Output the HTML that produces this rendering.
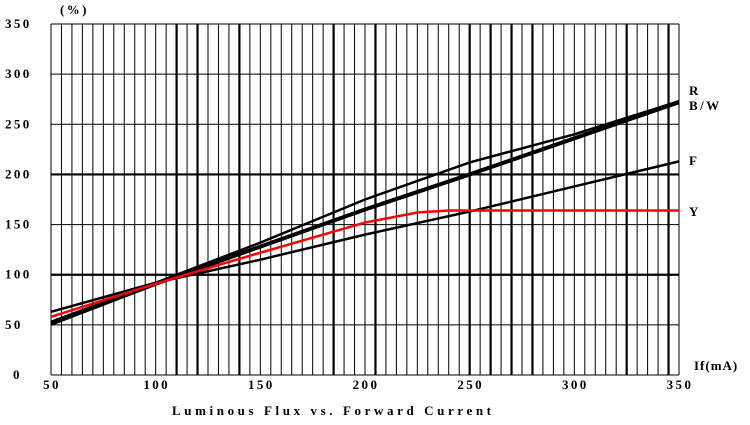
<!DOCTYPE html>
<html><head><meta charset="utf-8"><style>
body{margin:0;background:#fff}
svg text{font-family:"Liberation Serif",serif;font-weight:bold;font-size:13px;fill:#000;letter-spacing:2.4px}
</style></head><body>
<svg id="chart" width="750" height="420" xmlns="http://www.w3.org/2000/svg">
<g id="grid"></g>
<g id="series"></g>
<g id="labels"></g>
<text x="60" y="14">(%)</text>
<text x="694" y="370" style="letter-spacing:1px">If(mA)</text>
<text x="172" y="415" style="letter-spacing:3.6px">Luminous Flux vs. Forward Current</text>
</svg>
<script>
const xTicks=[50,100,150,200,250,300,350];
const yTicks=[0,50,100,150,200,250,300,350];
const thickCols=[12,14,18,27,31,40,42,44,46,55,59];
const xs=[50,100,150,200,250,300,350];
const seriesR=[53,92,132,175,212,240,273];
const seriesBW=[51,91,128,165,200,236,272];
const seriesF=[63,92,115,140,163,188,213];
const yX=[50,100,150,200,225,240,350];
const seriesY=[58,91,122,152,162,164,164];
const endLabels=["R","B/W","F","Y"];
const endLabelY=[90,105,160,211];

const X0=51,X1=679,Y0=375,Y1=24;
const sx=v=>X0+(v-50)/300*(X1-X0);
const sy=v=>Y0-v/350*(Y0-Y1);
const NS="http://www.w3.org/2000/svg";
function mk(tag,attrs,parent){const e=document.createElementNS(NS,tag);for(const k in attrs)e.setAttribute(k,attrs[k]);parent.appendChild(e);return e;}
const grid=document.getElementById('grid');
for(let i=0;i<=60;i++){
  const x=X0+i*(X1-X0)/60;
  const l=mk('line',{x1:x,x2:x,y1:Y1,y2:Y0,stroke:'#000','stroke-width':thickCols.includes(i)?2.2:1},grid);
  
  
}
yTicks.forEach(v=>{
  const y=sy(v);
  const l=mk('line',{x1:X0,x2:X1,y1:y,y2:y,stroke:'#000','stroke-width':(v===100||v===200)?2.2:1},grid);
  
  
  const t=mk('text',{x:(v===0?13:5),y:y+4},grid);
  t.textContent=v;
  
  
});
xTicks.forEach(v=>{
  const t=mk('text',{x:sx(v)+1,y:389,'text-anchor':'middle'},grid);
  t.textContent=v;
  
  
});
const ser=document.getElementById('series');
function line(xv,yv,color,w,name){
  const p=mk('polyline',{points:xv.map((x,i)=>sx(x)+','+sy(yv[i])).join(' '),fill:'none',stroke:color,'stroke-width':w},ser);
  
  
}
line(xs,seriesF,'#000',2.5,'series-f');
line(xs,seriesR,'#000',2.5,'series-r');
line(xs,seriesBW,'#000',4,'series-bw');
line(yX,seriesY,'#f00',2.5,'series-y');
const lab=document.getElementById('labels');
endLabels.forEach((s,i)=>{
  const t=mk('text',{x:689,y:endLabelY[i]+5},lab);
  t.textContent=s;
  
  
});
</script>
</body></html>
